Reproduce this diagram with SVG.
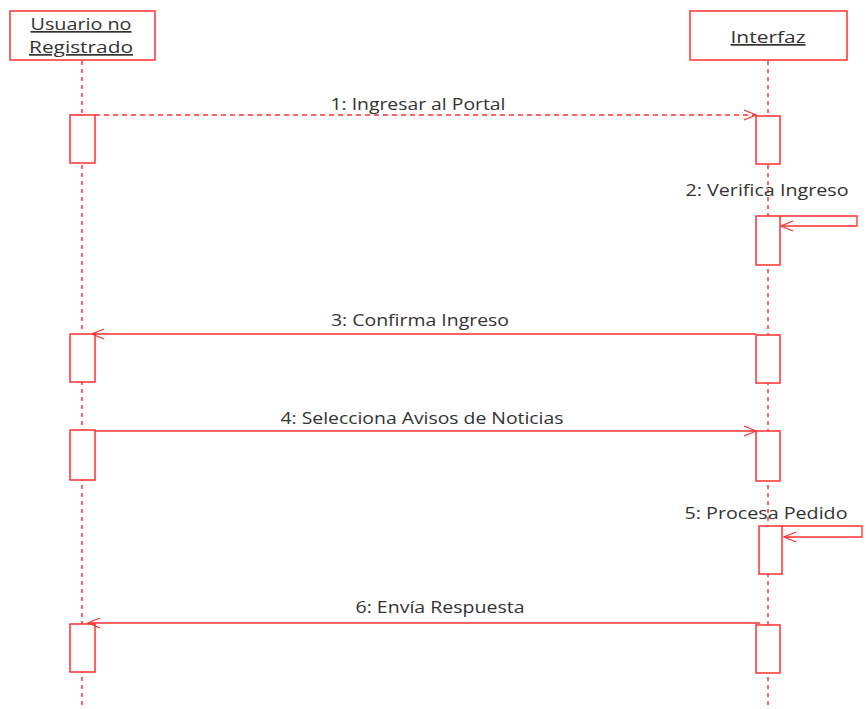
<svg xmlns="http://www.w3.org/2000/svg" width="866" height="709" viewBox="0 0 866 709">
  <style>
    .box { fill: #fff; stroke: #ff3030; stroke-width: 1.5; }
    .life { stroke: #ff3030; stroke-width: 1.5; stroke-dasharray: 4 4; fill: none; }
    .msg { stroke: #ff3030; stroke-width: 1.3; fill: none; }
    .dash { stroke-dasharray: 5 4; }
    .head { font-family: "Open Sans", "Liberation Sans", sans-serif; font-size: 17px; fill: #333; text-anchor: middle; text-decoration: underline; }
    .lbl { font-family: "Open Sans", "Liberation Sans", sans-serif; font-size: 16px; fill: #333; text-anchor: middle; }
  </style>
  <defs>
    <marker id="open" markerWidth="14" markerHeight="12" refX="13" refY="6" orient="auto" markerUnits="userSpaceOnUse">
      <path d="M1,1 L13,6 L1,11" fill="none" stroke="#ff3030" stroke-width="1.3"/>
    </marker>
  </defs>
  <rect width="866" height="709" fill="#fff"/>

  <!-- lifelines -->
  <g id="lifelines">
    <line class="life" x1="82" y1="61" x2="82" y2="709"/>
    <line class="life" x1="768" y1="61" x2="768" y2="709"/>
  </g>

  <g id="usuario">
    <rect class="box" x="10" y="11" width="145" height="49"/>
    <text class="head" x="81" y="30" textLength="101" lengthAdjust="spacingAndGlyphs">Usuario no</text>
    <text class="head" x="81" y="53" textLength="104" lengthAdjust="spacingAndGlyphs">Registrado</text>
  </g>
  <g id="interfaz">
    <rect class="box" x="690" y="11" width="157" height="49"/>
    <text class="head" x="768" y="43" textLength="75" lengthAdjust="spacingAndGlyphs">Interfaz</text>
  </g>

  <!-- activation bars -->
  <g id="activations">
    <rect class="box" x="70" y="115" width="25" height="48"/>
    <rect class="box" x="70" y="334" width="25" height="48"/>
    <rect class="box" x="70" y="430" width="25" height="50"/>
    <rect class="box" x="70" y="624" width="25" height="48"/>
    <rect class="box" x="756" y="116" width="24" height="48"/>
    <rect class="box" x="756" y="216" width="24" height="49"/>
    <rect class="box" x="756" y="335" width="24" height="48"/>
    <rect class="box" x="756" y="431" width="24" height="50"/>
    <rect class="box" x="759" y="526" width="23" height="48"/>
    <rect class="box" x="756" y="625" width="24" height="48"/>
  </g>

  <!-- messages -->
  <g id="connectors">
    <line class="msg dash" x1="95" y1="115" x2="756" y2="115" marker-end="url(#open)"/>
    <polyline class="msg" points="780,216 857,216 857,226 781,226" marker-end="url(#open)"/>
    <line class="msg" x1="756" y1="334" x2="92" y2="334" marker-end="url(#open)"/>
    <line class="msg" x1="95" y1="431" x2="756" y2="431" marker-end="url(#open)"/>
    <polyline class="msg" points="782,526 862,526 862,537 784,537" marker-end="url(#open)"/>
    <line class="msg" x1="760" y1="623" x2="88" y2="623" marker-end="url(#open)"/>
  </g>

  <g id="labels">
    <text class="lbl" x="418" y="110" textLength="175" lengthAdjust="spacingAndGlyphs">1: Ingresar al Portal</text>
    <text class="lbl" x="767" y="196" textLength="163" lengthAdjust="spacingAndGlyphs">2: Verifica Ingreso</text>
    <text class="lbl" x="420" y="326" textLength="178" lengthAdjust="spacingAndGlyphs">3: Confirma Ingreso</text>
    <text class="lbl" x="422" y="424" textLength="283" lengthAdjust="spacingAndGlyphs">4: Selecciona Avisos de Noticias</text>
    <text class="lbl" x="766" y="519" textLength="163" lengthAdjust="spacingAndGlyphs">5: Procesa Pedido</text>
    <text class="lbl" x="440" y="613" textLength="169" lengthAdjust="spacingAndGlyphs">6: Envía Respuesta</text>
  </g>
</svg>
